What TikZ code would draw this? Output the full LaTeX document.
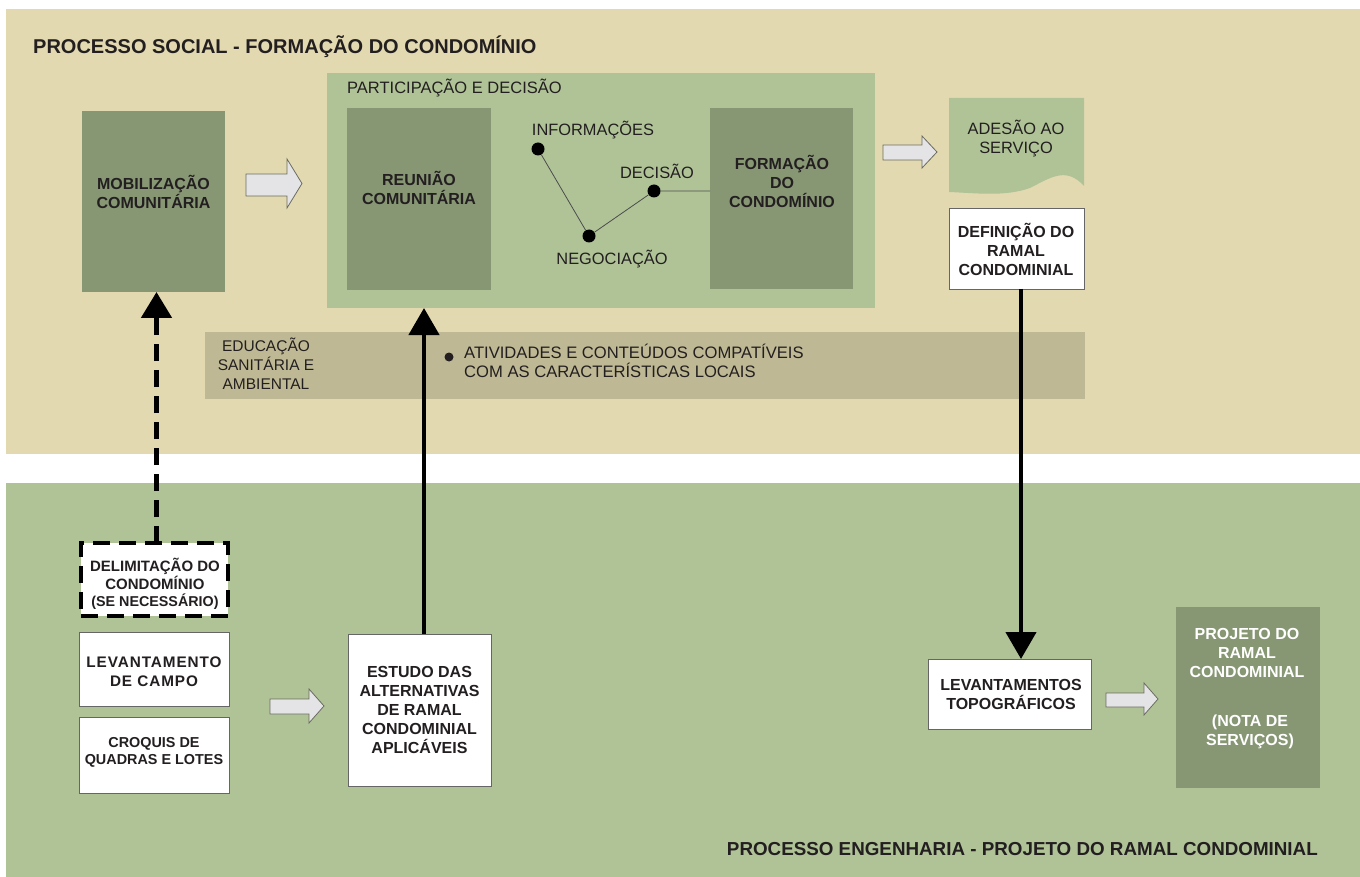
\documentclass[tikz,border=0pt]{standalone}
\usepackage{fontspec}
\setmainfont{Liberation Sans}
\newfontfamily\spacedfont[LetterSpace=6]{Liberation Sans}
\usetikzlibrary{arrows.meta,fit,calc}
\definecolor{beige}{HTML}{E2D9B1}
\definecolor{ltgreen}{HTML}{AFC397}
\definecolor{dkgreen}{HTML}{879774}
\definecolor{band}{HTML}{BEB894}
\definecolor{txt}{HTML}{231F20}
\definecolor{arrfill}{HTML}{E4E4E6}
\definecolor{arrdraw}{HTML}{6B6B60}
\newcommand\blockarr[7]{\draw[blockarrow] (#1,#6) -- (#3,#6) -- (#3,#4) -- (#2,{(#4+#5)/2}) -- (#3,#5) -- (#3,#7) -- (#1,#7) -- cycle;}
\begin{document}
\begin{tikzpicture}[x=1pt,y=-1pt,
  panel/.style={inner sep=0pt, outer sep=0pt, draw=none},
  darkbox/.style={fill=dkgreen, inner sep=0pt, outer sep=0pt, draw=none},
  whitebox/.style={fill=white, draw=black!60, line width=0.8pt, inner sep=0pt, outer sep=0pt},
  dashbox/.style={fill=white, draw=black, line width=4.5pt, dash pattern=on 17pt off 9pt, inner sep=0pt, outer sep=0pt},
  boldtxt/.style={font=\bfseries\fontsize{16}{19}\selectfont, align=center, text=txt, inner sep=0pt},
  regtxt/.style={font=\fontsize{16.4}{19}\selectfont, align=center, text=txt, inner sep=0pt},
  titletxt/.style={font=\bfseries\fontsize{19}{22}\selectfont, text=txt, inner sep=0pt},
  dot/.style={circle, fill=black, minimum size=13pt, inner sep=0pt},
  thinline/.style={draw=black!70, line width=0.8pt},
  bigarrow/.style={line width=4.5pt, draw=black, -{Triangle[width=30pt,length=27pt]}},
  dasharrow/.style={line width=5pt, draw=black, dash pattern=on 17pt off 9pt, -{Triangle[width=30pt,length=26pt]}},
  blockarrow/.style={fill=arrfill, draw=arrdraw, line width=0.8pt, line join=miter}
]
\useasboundingbox (0,0) rectangle (1360,877);
\fill[white] (0,0) rectangle (1360,877);
% panels
\node[panel, fill=beige, fit={(6,9) (1360,454)}] (top) {};
\node[panel, fill=ltgreen, fit={(6,483) (1360,877)}] (bottom) {};
\node[titletxt, font=\bfseries\fontsize{20}{22}\selectfont, anchor=west] (ttop) at (33,47) {PROCESSO SOCIAL - FORMAÇÃO DO CONDOMÍNIO};
\node[titletxt, font=\bfseries\fontsize{18.8}{22}\selectfont, anchor=east] (tbot) at (1318,849) {PROCESSO ENGENHARIA - PROJETO DO RAMAL CONDOMINIAL};

% education band
\node[panel, fill=band, fit={(205,332) (1085,399)}] (band) {};
\node[regtxt, font=\fontsize{15.5}{19}\selectfont] (edu) at (266,364) {EDUCAÇÃO\\SANITÁRIA E\\AMBIENTAL};
\node[circle, fill=txt, minimum size=9pt, inner sep=0pt] (bullet) at (449,357) {};
\node[regtxt, font=\fontsize{16.6}{19}\selectfont, align=left, anchor=west] (ativ) at (464,361) {ATIVIDADES E CONTEÚDOS COMPATÍVEIS\\COM AS CARACTERÍSTICAS LOCAIS};

% social process
\node[darkbox, fit={(82,111) (225,292)}] (mob) {};
\node[boldtxt] (mobT) at (153.5,192) {MOBILIZAÇÃO\\COMUNITÁRIA};

\node[panel, fill=ltgreen, fit={(327,73) (875,308)}] (part) {};
\node[regtxt, font=\fontsize{16.5}{19}\selectfont, anchor=west] (partT) at (347,88) {PARTICIPAÇÃO E DECISÃO};
\node[darkbox, fit={(347,108) (491,290)}] (reun) {};
\node[boldtxt] (reunT) at (419,187.5) {REUNIÃO\\COMUNITÁRIA};
\node[darkbox, fit={(710,108) (853,289)}] (form) {};
\node[boldtxt] (formT) at (782,181) {FORMAÇÃO\\DO\\CONDOMÍNIO};

\node[dot] (info) at (538,149) {};
\node[dot] (neg) at (589,236) {};
\node[dot] (dec) at (654,191) {};
\node[regtxt] (infoT) at (593,130) {INFORMAÇÕES};
\node[regtxt] (decT) at (657,171) {DECISÃO};
\node[regtxt] (negT) at (612,259) {NEGOCIAÇÃO};
\draw[thinline] (info) -- (neg) -- (dec) -- (dec -| form.west);

% adesao
\fill[ltgreen] (949,98) -- (1084,98) -- (1084,186)
  .. controls (1066,166) and (1050,178) .. (1030,188)
  .. controls (1005,197) and (975,193) .. (949,192) -- cycle;
\node[regtxt] (ades) at (1016,138.5) {ADESÃO AO\\SERVIÇO};
\node[whitebox, fit={(949,208) (1084,289)}] (defin) {};
\node[boldtxt] (definT) at (1016,249) {DEFINIÇÃO DO\\RAMAL\\CONDOMINIAL};

% engineering process
\node[dashbox, fit={(81,543) (228,616)}] (delim) {};
\node[boldtxt, font=\bfseries\fontsize{15}{17.5}\selectfont] (delimT) at (155,584) {DELIMITAÇÃO DO\\CONDOMÍNIO\\{\fontsize{14.3}{17}\selectfont(SE NECESSÁRIO)}};
\node[whitebox, fit={(79,632) (229,706)}] (campo) {};
\node[boldtxt, font=\spacedfont\bfseries\fontsize{15.3}{19}\selectfont] (campoT) at (154,671.5) {LEVANTAMENTO\\DE CAMPO};
\node[whitebox, fit={(79,717) (229,793)}] (croq) {};
\node[boldtxt, font=\bfseries\fontsize{14.4}{17}\selectfont] (croqT) at (154,752) {CROQUIS DE\\QUADRAS E LOTES};
\node[whitebox, fit={(348,634) (491,786)}] (estudo) {};
\node[boldtxt] (estudoT) at (419.5,710) {ESTUDO DAS\\ALTERNATIVAS\\DE RAMAL\\CONDOMINIAL\\APLICÁVEIS};
\node[whitebox, fit={(928,659) (1091,729)}] (lev) {};
\node[boldtxt] (levT) at (1011,694) {LEVANTAMENTOS\\TOPOGRÁFICOS};
\node[darkbox, fit={(1176,607) (1320,788)}] (proj) {};
\node[boldtxt, text=white] (projT) at (1247,653) {PROJETO DO\\RAMAL\\CONDOMINIAL};
\node[boldtxt, text=white] (notaT) at (1250,732) {(NOTA DE\\SERVIÇOS)};

% block arrows
\blockarr{246}{302}{287}{159}{208}{174}{196}
\blockarr{883}{937}{922}{136}{168}{145}{160}
\blockarr{270}{324}{309}{689}{723}{699}{714}
\blockarr{1106}{1158}{1144}{683}{715}{693}{707}

% connectors
\draw[dasharrow] ([xshift=2pt]delim.north) -- ([xshift=2pt]delim.north |- mob.south);
\draw[bigarrow] ([xshift=4.5pt]estudo.north) -- ([xshift=4.5pt]estudo.north |- part.south);
\draw[bigarrow] ([xshift=4.5pt]defin.south) -- ([xshift=4.5pt]defin.south |- lev.north);
\end{tikzpicture}
\end{document}
